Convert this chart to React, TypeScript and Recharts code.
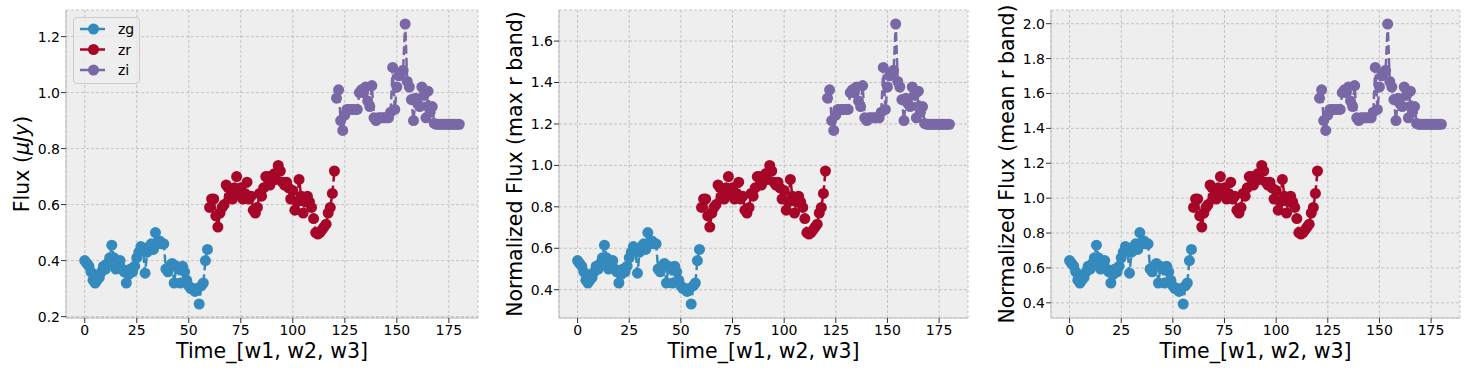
import React from "react";
import { LineChart, Line, XAxis, YAxis, CartesianGrid, Legend } from "recharts";

// time index of each observation
const zgTimes = Array.from({ length: 60 }, (_, i) => i);
const zrTimes = Array.from({ length: 61 }, (_, i) => i + 60);
const ziTimes = Array.from({ length: 60 }, (_, i) => i + 121);

// flux values (uJy)
const zgFlux = [
    0.40, 0.39, 0.38, 0.36, 0.33, 0.32, 0.33, 0.34, 0.36, 0.38,
    0.37, 0.39, 0.41, 0.455, 0.41, 0.37, 0.38, 0.40, 0.37, 0.36,
    0.32, 0.35, 0.37, 0.36, 0.38, 0.41, 0.43, 0.45, 0.44, 0.355,
    0.43, 0.45, 0.46, 0.44, 0.50, 0.46, 0.47, 0.46, 0.46, 0.37,
    0.36, 0.38, 0.39, 0.32, 0.38, 0.37, 0.32, 0.38, 0.36, 0.33,
    0.31, 0.30, 0.30, 0.29, 0.30, 0.245, 0.31, 0.32, 0.40, 0.44,
];
const zrFlux = [
    0.59, 0.62, 0.62, 0.56, 0.52, 0.57, 0.59, 0.60, 0.67, 0.66,
    0.63, 0.62, 0.66, 0.70, 0.64, 0.66, 0.62, 0.64, 0.68, 0.62,
    0.63, 0.58, 0.57, 0.59, 0.64, 0.63, 0.66, 0.70, 0.70, 0.67,
    0.70, 0.71, 0.69, 0.74, 0.72, 0.68, 0.67, 0.68, 0.66, 0.62,
    0.65, 0.58, 0.61, 0.69, 0.63, 0.57, 0.61, 0.63, 0.61, 0.59,
    0.55, 0.50, 0.495, 0.50, 0.51, 0.52, 0.53, 0.57, 0.59, 0.64,
    0.72,
];
const ziFlux = [
    0.98, 1.01, 0.90, 0.865, 0.92, 0.94, 0.94, 0.94, 0.94, 0.94,
    0.94, 1.00, 1.01, 1.00, 1.02, 0.97, 0.95, 1.025, 0.91, 0.90,
    0.91, 0.91, 0.91, 0.91, 0.91, 0.91, 0.93, 1.09, 0.94, 1.02,
    1.06, 1.07, 1.08, 1.245, 1.04, 1.02, 0.975, 0.90, 0.98, 0.96,
    0.95, 1.02, 0.99, 0.91, 1.005, 0.93, 0.95, 0.89, 0.887, 0.887,
    0.887, 0.887, 0.887, 0.887, 0.887, 0.887, 0.887, 0.887, 0.887, 0.887,
];

const xTicks = [0, 25, 50, 75, 100, 125, 150, 175];
const yTicksFlux = [0.2, 0.4, 0.6, 0.8, 1.0, 1.2];
const yTicksMax = [0.4, 0.6, 0.8, 1.0, 1.2, 1.4, 1.6];
const yTicksMean = [0.4, 0.6, 0.8, 1.0, 1.2, 1.4, 1.6, 1.8, 2.0];

const bands = [
    { key: "zg", color: "#348ABD" },
    { key: "zr", color: "#A60628" },
    { key: "zi", color: "#7A68A6" },
];

const FONT = "DejaVu Sans";

const maxR = Math.max(...zrFlux);
const meanR = zrFlux.reduce((a, b) => a + b, 0) / zrFlux.length;

const buildRows = (scale: number) => {
    const rows: any[] = [];
    zgTimes.forEach((t, i) => rows.push({ t, zg: zgFlux[i] / scale, zr: null, zi: null }));
    zrTimes.forEach((t, i) => rows.push({ t, zg: null, zr: zrFlux[i] / scale, zi: null }));
    ziTimes.forEach((t, i) => rows.push({ t, zg: null, zr: null, zi: ziFlux[i] / scale }));
    return rows;
};

// matplotlib-like 5% autoscale margin
const autoDomain = (scale: number): [number, number] => {
    const all = [...zgFlux, ...zrFlux, ...ziFlux].map((v) => v / scale);
    const lo = Math.min(...all);
    const hi = Math.max(...all);
    const m = (hi - lo) * 0.05;
    return [lo - m, hi + m];
};

const YLabel = ({ viewBox, title }: any) => {
    const cx = viewBox.x + viewBox.width - 44;
    const cy = viewBox.y + viewBox.height / 2;
    return (
        <text
            x={cx}
            y={cy}
            transform={`rotate(-90 ${cx} ${cy})`}
            textAnchor="middle"
            dominantBaseline="central"
            fontSize={20.5}
            fontFamily={FONT}
            fill="#000"
        >
            {title}
        </text>
    );
};

const XLabel = ({ viewBox }: any) => (
    <text
        x={viewBox.x + viewBox.width / 2}
        y={viewBox.y + 40}
        textAnchor="middle"
        fontSize={20.5}
        fontFamily={FONT}
        fill="#000"
    >
        Time_[w1, w2, w3]
    </text>
);

const LegendBox = () => (
    <div
        style={{
            width: 67,
            height: 67,
            background: "rgba(238,238,238,0.8)",
            border: "1px solid #cccccc",
            borderRadius: 4,
            boxSizing: "border-box",
        }}
    >
        <svg width={65} height={65} style={{ display: "block" }}>
            {bands.map((b, i) => {
                const y = 11 + i * 20.5;
                return (
                    <g key={b.key}>
                        <line x1={6} x2={31} y1={y} y2={y} stroke={b.color} strokeWidth={2.5} />
                        <circle cx={19.5} cy={y} r={5.5} fill={b.color} />
                        <text x={44} y={y} dominantBaseline="central" fontSize={14} fontFamily={FONT} fill="#000">
                            {b.key}
                        </text>
                    </g>
                );
            })}
        </svg>
    </div>
);

interface PanelProps {
    left: number;
    width: number;
    axisWidth: number;
    right: number;
    scale: number;
    yTicks: number[];
    title: React.ReactNode;
    legend?: boolean;
}

const Panel = ({ left, width, axisWidth, right, scale, yTicks, title, legend }: PanelProps) => {
    const data = buildRows(scale);
    const domain = autoDomain(scale);
    const tick = { fontSize: 14, fontFamily: FONT, fill: "#000" };
    return (
        <div style={{ position: "absolute", left, top: 0 }}>
            <LineChart width={width} height={373} data={data} margin={{ top: 10, right, bottom: 0, left: 0 }}>
                <CartesianGrid fill="#eeeeee" stroke="#b2b2b2" strokeDasharray="3 2" strokeWidth={0.7} />
                <XAxis
                    dataKey="t"
                    type="number"
                    domain={[-9, 189]}
                    ticks={xTicks}
                    allowDataOverflow
                    height={55}
                    tick={tick}
                    tickSize={5}
                    tickLine={{ stroke: "#333" }}
                    axisLine={{ stroke: "#bcbcbc" }}
                    label={<XLabel />}
                />
                <XAxis
                    xAxisId="top"
                    orientation="top"
                    type="number"
                    domain={[-9, 189]}
                    height={0}
                    tick={false}
                    tickLine={false}
                    axisLine={{ stroke: "#bcbcbc" }}
                />
                <YAxis
                    type="number"
                    domain={domain}
                    ticks={yTicks}
                    allowDataOverflow
                    width={axisWidth}
                    tick={tick}
                    tickSize={5}
                    tickMargin={1}
                    tickLine={{ stroke: "#333" }}
                    axisLine={{ stroke: "#bcbcbc" }}
                    tickFormatter={(v: number) => v.toFixed(1)}
                    label={<YLabel title={title} />}
                />
                <YAxis
                    yAxisId="right"
                    orientation="right"
                    type="number"
                    domain={domain}
                    width={0}
                    tick={false}
                    tickLine={false}
                    axisLine={{ stroke: "#bcbcbc" }}
                />
                {legend && (
                    <Legend
                        layout="vertical"
                        align="center"
                        verticalAlign="middle"
                        content={<LegendBox />}
                        wrapperStyle={{ left: 73, top: 17, width: 67, height: 67 }}
                    />
                )}
                {bands.map((b) => (
                    <Line
                        key={b.key}
                        dataKey={b.key}
                        name={b.key}
                        stroke={b.color}
                        strokeWidth={2.5}
                        strokeDasharray="9 4"
                        dot={{ r: 5.5, fill: b.color, stroke: "none" }}
                        activeDot={false}
                        connectNulls={false}
                        isAnimationActive={false}
                    />
                ))}
            </LineChart>
        </div>
    );
};

export default function App() {
    return (
        <div style={{ position: "absolute", left: 0, top: 0, width: 1471, height: 373, background: "#fff" }}>
            <Panel
                left={0}
                width={490}
                axisWidth={66}
                right={12}
                scale={1}
                yTicks={yTicksFlux}
                legend
                title={
                    <>
                        Flux (<tspan fontStyle="italic">μJy</tspan>)
                    </>
                }
            />
            <Panel
                left={490}
                width={490}
                axisWidth={69}
                right={12}
                scale={maxR}
                yTicks={yTicksMax}
                title="Normalized Flux (max r band)"
            />
            <Panel
                left={980}
                width={491}
                axisWidth={71}
                right={11}
                scale={meanR}
                yTicks={yTicksMean}
                title="Normalized Flux (mean r band)"
            />
        </div>
    );
}
